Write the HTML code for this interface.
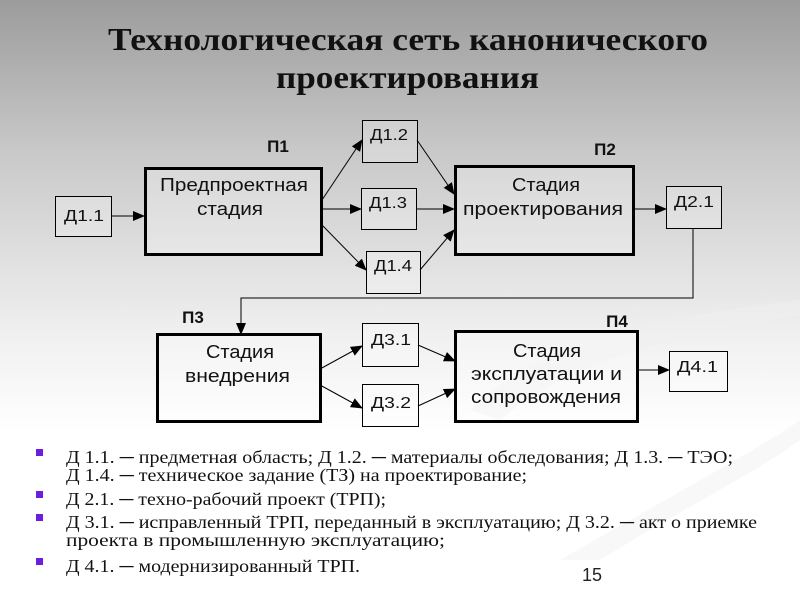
<!DOCTYPE html>
<html><head><meta charset="utf-8"><style>
html,body{margin:0;padding:0}
body{width:800px;height:600px;overflow:hidden;background:linear-gradient(to bottom,#9c9c9c 0%,#c8c8c8 25%,#efefef 55%,#ffffff 72%,#fff 100%);position:relative}
svg{position:absolute;left:0;top:0}
</style></head><body>
<svg width="800" height="600" xmlns="http://www.w3.org/2000/svg" font-family="Liberation Sans, DejaVu Sans, sans-serif">
<defs><marker id="a" markerWidth="12" markerHeight="10" refX="11" refY="5" orient="auto" markerUnits="userSpaceOnUse"><path d="M0,0 L12,5 L0,10 z" fill="#000"/></marker></defs>
<path d="M560,560 C700,480 790,430 800,420 L800,440 C760,470 680,510 600,560 Z" fill="#f2f2f2" opacity="0.5"/>
<path d="M470,410 C550,330 720,310 800,300 L800,315 C720,330 580,350 500,420 Z" fill="#f0f0f0" opacity="0.5"/>
<text x="108" y="50" textLength="600" lengthAdjust="spacingAndGlyphs" font-family="Liberation Serif, serif" font-weight="bold" font-size="32" fill="#111">Технологическая сеть канонического</text>
<text x="276" y="88" textLength="263" lengthAdjust="spacingAndGlyphs" font-family="Liberation Serif, serif" font-weight="bold" font-size="32" fill="#111">проектирования</text>
<g fill="rgba(255,255,255,0.25)" stroke="#000">
<rect x="55.5" y="196.5" width="56" height="40"/>
<rect x="145.5" y="168.5" width="176" height="86" stroke-width="3"/>
<rect x="362.5" y="120.5" width="55" height="42"/>
<rect x="361.5" y="188.5" width="55" height="41"/>
<rect x="366.5" y="251.5" width="54" height="42"/>
<rect x="455.5" y="166.5" width="178" height="88" stroke-width="3"/>
<rect x="666.5" y="186.5" width="55" height="42"/>
<rect x="157.5" y="334.5" width="163" height="87" stroke-width="3"/>
<rect x="362.5" y="323.5" width="56" height="43"/>
<rect x="362.5" y="384.5" width="56" height="42"/>
<rect x="455.5" y="331.5" width="182" height="90" stroke-width="3"/>
<rect x="669.5" y="351.5" width="58" height="40"/>
</g>
<g stroke="#000" stroke-width="1" fill="none" marker-end="url(#a)">
<line x1="111" y1="216" x2="144" y2="216"/>
<line x1="322" y1="200" x2="362" y2="140"/>
<line x1="322" y1="209" x2="361" y2="209"/>
<line x1="322" y1="225" x2="366" y2="270"/>
<line x1="417" y1="140" x2="454" y2="194"/>
<line x1="416" y1="209" x2="454" y2="209"/>
<line x1="420" y1="270" x2="454" y2="230"/>
<line x1="633" y1="209" x2="666" y2="209"/>
<polyline points="693,229 693,298 241,298 241,334"/>
<line x1="320" y1="369" x2="362" y2="346"/>
<line x1="320" y1="385" x2="362" y2="408"/>
<line x1="418" y1="345" x2="455" y2="361"/>
<line x1="418" y1="406" x2="455" y2="389"/>
<line x1="637" y1="370" x2="669" y2="370"/>
</g>
<g font-size="16" fill="#111">
<text x="64" y="221" textLength="40" lengthAdjust="spacingAndGlyphs">Д1.1</text>
<text x="370" y="140" textLength="38" lengthAdjust="spacingAndGlyphs">Д1.2</text>
<text x="369" y="208" textLength="38" lengthAdjust="spacingAndGlyphs">Д1.3</text>
<text x="374" y="271" textLength="38" lengthAdjust="spacingAndGlyphs">Д1.4</text>
<text x="674" y="207" textLength="40" lengthAdjust="spacingAndGlyphs">Д2.1</text>
<text x="371" y="345" textLength="40" lengthAdjust="spacingAndGlyphs">Д3.1</text>
<text x="371" y="408" textLength="40" lengthAdjust="spacingAndGlyphs">Д3.2</text>
<text x="677" y="372" textLength="41" lengthAdjust="spacingAndGlyphs">Д4.1</text>
</g>
<g font-size="18" fill="#111">
<text x="160" y="191" textLength="148" lengthAdjust="spacingAndGlyphs">Предпроектная</text>
<text x="197" y="215" textLength="66" lengthAdjust="spacingAndGlyphs">стадия</text>
<text x="512" y="191" textLength="68" lengthAdjust="spacingAndGlyphs">Стадия</text>
<text x="463" y="215" textLength="160" lengthAdjust="spacingAndGlyphs">проектирования</text>
<text x="206" y="358" textLength="68" lengthAdjust="spacingAndGlyphs">Стадия</text>
<text x="185" y="382" textLength="105" lengthAdjust="spacingAndGlyphs">внедрения</text>
<text x="513" y="357" textLength="68" lengthAdjust="spacingAndGlyphs">Стадия</text>
<text x="471" y="380" textLength="151" lengthAdjust="spacingAndGlyphs">эксплуатации и</text>
<text x="471" y="403" textLength="150" lengthAdjust="spacingAndGlyphs">сопровождения</text>
</g>
<g font-size="17" font-weight="bold" text-anchor="middle" fill="#111">
<text x="278" y="152">П1</text>
<text x="605" y="155">П2</text>
<text x="193" y="323">П3</text>
<text x="617" y="327">П4</text>
</g>
<g fill="#6a1ee0">
<rect x="36" y="449" width="7" height="7"/>
<rect x="36" y="491" width="7" height="7"/>
<rect x="36" y="514" width="7" height="7"/>
<rect x="36" y="558" width="7" height="7"/>
</g>
<g font-family="Liberation Serif, serif" font-size="18" fill="#111">
<text x="66" y="463" textLength="667" lengthAdjust="spacingAndGlyphs">Д 1.1. ─ предметная область; Д 1.2. ─ материалы обследования; Д 1.3. ─ ТЭО;</text>
<text x="66" y="481" textLength="461" lengthAdjust="spacingAndGlyphs">Д 1.4. ─ техническое задание (ТЗ) на проектирование;</text>
<text x="66" y="505" textLength="320" lengthAdjust="spacingAndGlyphs">Д 2.1. ─ техно-рабочий проект (ТРП);</text>
<text x="66" y="528" textLength="691" lengthAdjust="spacingAndGlyphs">Д 3.1. ─ исправленный ТРП, переданный в эксплуатацию; Д 3.2. ─ акт о приемке</text>
<text x="66" y="546" textLength="379" lengthAdjust="spacingAndGlyphs">проекта в промышленную эксплуатацию;</text>
<text x="66" y="572" textLength="294" lengthAdjust="spacingAndGlyphs">Д 4.1. ─ модернизированный ТРП.</text>
</g>
<text x="592" y="581" font-size="18" text-anchor="middle" fill="#222">15</text>
</svg>
</body></html>
